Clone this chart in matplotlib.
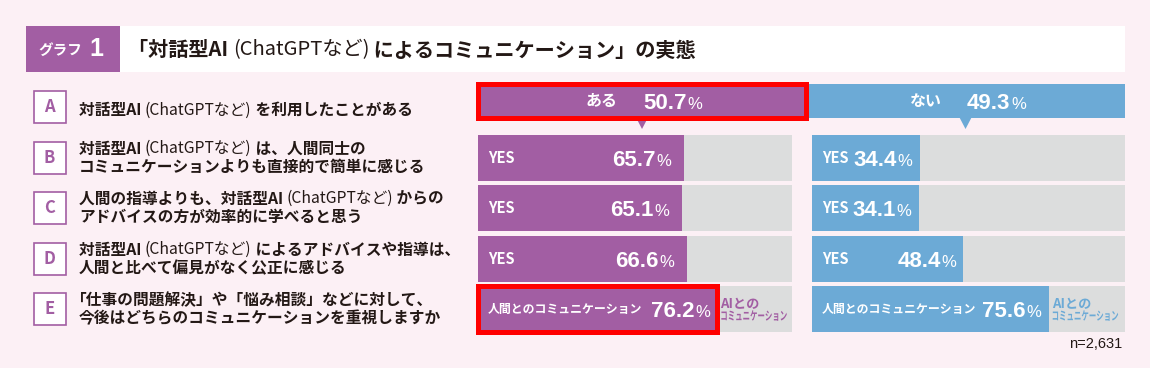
import matplotlib
matplotlib.use('Agg')
import matplotlib.pyplot as plt
from matplotlib.patches import Rectangle, Polygon, PathPatch
from matplotlib.textpath import TextPath
from matplotlib.font_manager import FontProperties
from matplotlib.transforms import Affine2D, ScaledTranslation

# ---- データ ----
row_keys = ['A', 'B', 'C', 'D', 'E']
row_texts = [
    '対話型AI（ChatGPTなど）を利用したことがある',
    '対話型AI（ChatGPTなど）は、人間同士の\nコミュニケーションよりも直接的で簡単に感じる',
    '人間の指導よりも、対話型AI（ChatGPTなど）からの\nアドバイスの方が効率的に学べると思う',
    '対話型AI（ChatGPTなど）によるアドバイスや指導は、\n人間と比べて偏見がなく公正に感じる',
    '「仕事の問題解決」や「悩み相談」などに対して、\n今後はどちらのコミュニケーションを重視しますか',
]
head_labels = ['ある', 'ない']
head_values = [50.7, 49.3]
bar_labels = ['YES', 'YES', 'YES', '人間とのコミュニケーション']
aru_values = [65.7, 65.1, 66.6, 76.2]
nai_values = [34.4, 34.1, 48.4, 75.6]
rest_label = ['AIとの', 'コミュニケーション']
title_tag = ['グラフ', '1']
title = '「対話型AI（ChatGPTなど）によるコミュニケーション」の実態'
n_text = 'n=2,631'

# ---- 見た目 ----
W, H = 1150, 368
BG = '#FCF0F5'
PURPLE = '#A25EA3'
BLUE = '#6CAAD6'
GREY = '#DCDDDD'
RED = '#FF0000'
INK = '#231815'
JP = ['Noto Sans CJK JP', 'DejaVu Sans']
NUM = ['Liberation Sans Narrow', 'Liberation Sans', 'DejaVu Sans']

label_y = [107, 158, 208, 259, 309]   # 左の行ラベル位置
bar_y = label_y[1:]
bar_h = 46
head_y, head_h = 101, 34

fig = plt.figure(figsize=(W / 100, H / 100), dpi=100)
fig.patch.set_facecolor(BG)


def px_axes(x0, x1):
    a = fig.add_axes([x0 / W, 0, (x1 - x0) / W, 1])
    a.set_xlim(0, 100)
    a.set_ylim(H, 0)
    a.axis('off')
    a.patch.set_alpha(0)
    return a


ax = fig.add_axes([0, 0, 1, 1])
ax.set_xlim(0, W)
ax.set_ylim(H, 0)
ax.axis('off')
ax.patch.set_alpha(0)


def mixed_text(a, x, y, s, size, color):
    # 括弧の中は細字、それ以外は太字
    if s.startswith('「'):
        x -= 0.5 * size * 100 / 72
    s = s.replace('（', ' (').replace('）', ') ')
    parts, buf = [], ''
    for ch in s:
        if ch == '(':
            if buf:
                parts.append((buf, 'bold'))
            buf = ch
        elif ch == ')':
            parts.append((buf + ch, 'normal'))
            buf = ''
        else:
            buf += ch
    if buf:
        parts.append((buf, 'bold'))
    prev = None
    for txt, w in parts:
        if prev is None:
            prev = a.text(x, y, txt, fontsize=size, fontweight=w, color=color,
                          ha='left', va='center', family=JP)
        else:
            prev = a.annotate(txt, xy=(1, 0.5), xycoords=prev, fontsize=size,
                              fontweight=w, color=color, ha='left', va='center', family=JP)


def squeezed(a, x, y, s, px, sx, dx, dy, color):
    # 横につぶした文字 (TextPath)
    tp = TextPath((0, 0), s, size=px, prop=FontProperties(family=JP, weight='bold'))
    tr = Affine2D().scale(sx, 1).translate(dx, dy) + ScaledTranslation(x, y, a.transData)
    a.add_patch(PathPatch(tp, transform=tr, fc=color, lw=0, clip_on=False))


# タイトル帯
ax.add_patch(Rectangle((26, 26), 94, 46, color=PURPLE, lw=0))
ax.add_patch(Rectangle((120, 26), 1005, 46, color='white', lw=0))
ax.text(38, 50, title_tag[0], fontsize=10.5, fontweight='bold', color='white',
        ha='left', va='center', family=JP)
ax.text(96, 49, title_tag[1], fontsize=18, fontweight='bold', color='white',
        ha='center', va='center', family=NUM)
mixed_text(ax, 138, 50, title, 14.5, INK)

# 左側の設問
for k, s, y in zip(row_keys, row_texts, label_y):
    ax.add_patch(Rectangle((33.5, y - 16), 32, 32, fc='white', ec=PURPLE, lw=1.2))
    ax.text(49.5, y, k, fontsize=12, fontweight='bold', color=PURPLE,
            ha='center', va='center', family=JP)
    lines = s.split('\n')
    if len(lines) == 1:
        mixed_text(ax, 79, y + 3, lines[0], 11.3, INK)
    else:
        mixed_text(ax, 79, y - 9.3, lines[0], 11.3, INK)
        mixed_text(ax, 79, y + 9.3, lines[1], 11.3, INK)

ax.text(1122, 344, n_text, fontsize=10.5, color=INK, ha='right', va='center',
        family=['Liberation Sans', 'DejaVu Sans'])


def pct_right(a, x, yc, v, off, color='white'):
    p = a.annotate('%', xy=(x, yc + 8), xytext=(off, 0), textcoords='offset pixels',
                   ha='right', va='baseline', fontsize=12, color=color, family=NUM)
    a.annotate(f'{v:.1f}', xy=(0, yc + 8), xycoords=(p, 'data'), xytext=(-1, 0),
               textcoords='offset pixels', ha='right', va='baseline', fontsize=16,
               fontweight='bold', color=color, family=NUM)


# ある / ない の見出しバー
hd = px_axes(478, 1125)
hd.barh(head_y, head_values[0], height=head_h, color=PURPLE, lw=0)
hd.barh(head_y, head_values[1], left=head_values[0], height=head_h, color=BLUE, lw=0)
half = 6 / (1125 - 478) * 100
lefts = [0, head_values[0]]
for lab, v, l, c in zip(head_labels, head_values, lefts, [PURPLE, BLUE]):
    mid = l + v / 2
    hd.add_patch(Polygon([(mid - half, head_y + head_h / 2 - 0.5),
                          (mid + half, head_y + head_h / 2 - 0.5),
                          (mid, head_y + head_h / 2 + 11)], closed=True, color=c, lw=0))
    hd.annotate(lab, xy=(mid, head_y), xytext=(-24, 0), textcoords='offset pixels',
                ha='right', va='center', fontsize=11.5, fontweight='bold',
                color='white', family=JP)
    num = hd.annotate(f'{v:.1f}', xy=(mid, head_y + 8), xytext=(1, 0),
                      textcoords='offset pixels', ha='left', va='baseline',
                      fontsize=16, fontweight='bold', color='white', family=NUM)
    hd.annotate('%', xy=(1, head_y + 8), xycoords=(num, 'data'), xytext=(1, 0),
                textcoords='offset pixels', ha='left', va='baseline', fontsize=12,
                color='white', family=NUM)
hd.add_patch(Rectangle((0, head_y - head_h / 2), head_values[0], head_h, fill=False,
                       ec=RED, lw=3.6, clip_on=False, zorder=5))

# 各設問のバー
groups = [(px_axes(478, 792), aru_values, PURPLE, -13),
          (px_axes(812, 1125), nai_values, BLUE, -7)]
for a, vals, col, off in groups:
    a.barh(bar_y, [100] * len(vals), height=bar_h, color=GREY, lw=0)
    a.barh(bar_y, vals, height=bar_h, color=col, lw=0)
    for i, (lab, v, y) in enumerate(zip(bar_labels, vals, bar_y)):
        last = i == len(vals) - 1
        a.annotate(lab, xy=(0, y), xytext=(10, 0), textcoords='offset pixels',
                   ha='left', va='center', fontsize=8.6 if last else 10.5,
                   fontweight='bold', color='white', family=JP)
        pct_right(a, v, y, v, -7 if last else off)
        if last:
            a.annotate(rest_label[0], xy=(v, y), xytext=(3, 5), textcoords='offset pixels',
                       ha='left', va='center', fontsize=9.5, fontweight='bold',
                       color=col, family=JP)
            squeezed(a, v, y, rest_label[1], 12, 0.62, 3, -11, col)

groups[0][0].add_patch(Rectangle((0, bar_y[-1] - bar_h / 2), aru_values[-1], bar_h,
                                 fill=False, ec=RED, lw=3.6, clip_on=False, zorder=5))

fig.savefig('out.png', dpi=100, facecolor=BG)
